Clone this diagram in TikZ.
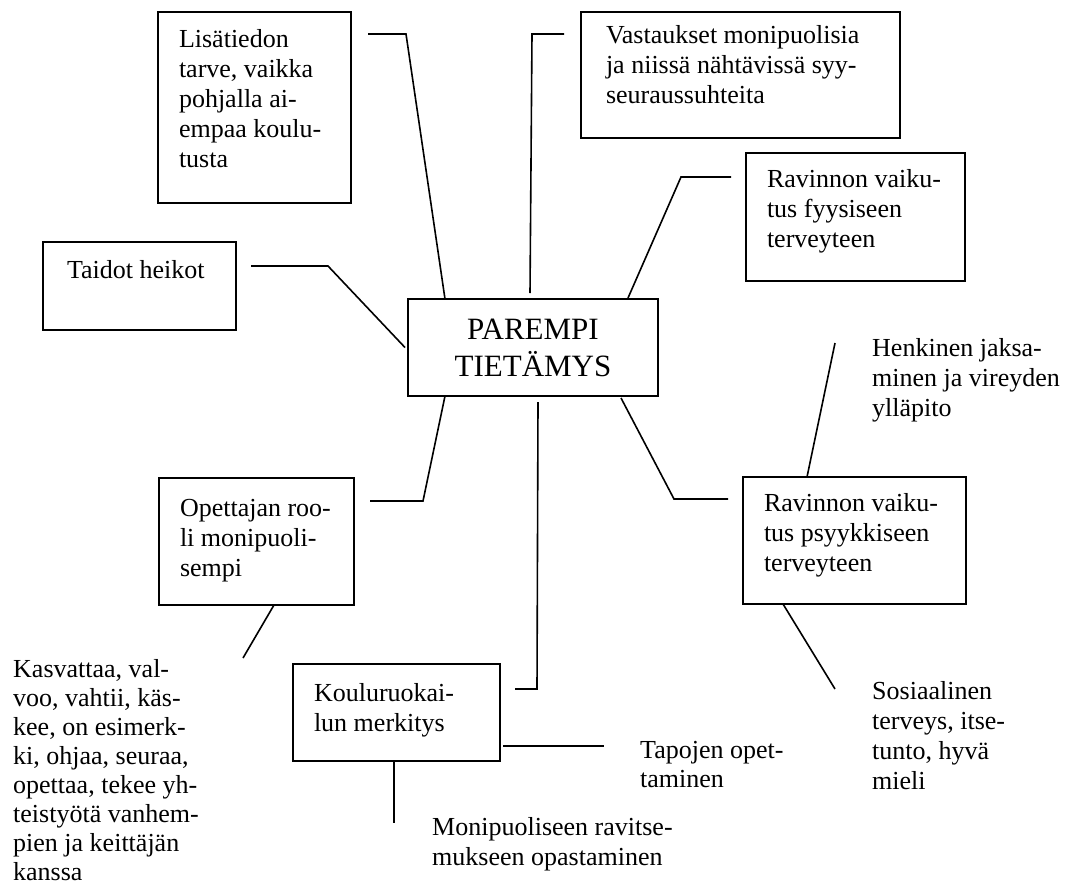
\documentclass[tikz,border=0pt]{standalone}
\usepackage{fontspec}
\setmainfont{Liberation Serif}
\newcommand{\boxbody}[3]{\parbox[t][#2][t]{#1}{\raggedright\strut #3}}
\newcommand{\freetext}[2]{\parbox[t]{#1}{\raggedright\strut #2}}
\tikzset{
    mapbox/.style={
        draw=black,
        line width=1.6pt,
        anchor=north west,
        outer sep=0pt,
        inner xsep=21pt,
        inner ysep=14pt,
        font=\fontsize{26}{30}\selectfont
    },
    corebox/.style={
        mapbox,
        inner xsep=0pt,
        inner ysep=15pt,
        font=\fontsize{31}{37}\selectfont
    },
    maptext/.style={
        anchor=base west,
        inner sep=0pt,
        font=\fontsize{26}{30}\selectfont
    },
    maplink/.style={
        draw=black,
        line width=1.6pt
    }
}

\begin{document}
\begin{tikzpicture}[x=1pt,y=-1pt]
    \useasboundingbox (0,0) rectangle (1070,886);

    \node[corebox] (core) at (408,299)
        {\boxbody{250pt}{67pt}{\centering PAREMPI\\TIETÄMYS}};
    \node[mapbox] (lis) at (158,12)
        {\boxbody{151pt}{163pt}{Lisätiedon\\tarve, vaikka\\pohjalla ai-\\empaa koulu-\\tusta}};
    \node[mapbox,inner xsep=25pt,inner ysep=10pt] (vast) at (581,12)
        {\boxbody{269pt}{106pt}{Vastaukset monipuolisia\\ja niissä nähtävissä syy-\\seuraussuhteita}};
    \node[mapbox,inner ysep=13pt] (fyys) at (746,153)
        {\boxbody{177pt}{102pt}{Ravinnon vaiku-\\tus fyysiseen\\terveyteen}};
    \node[mapbox,inner xsep=24pt,inner ysep=15pt] (taidot) at (43,242)
        {\boxbody{145pt}{58pt}{Taidot heikot}};
    \node[mapbox,inner ysep=13pt] (psyyk) at (743,477)
        {\boxbody{181pt}{101pt}{Ravinnon vaiku-\\tus psyykkiseen\\terveyteen}};
    \node[mapbox,inner ysep=17pt] (opett) at (159,478)
        {\boxbody{153pt}{93pt}{Opettajan roo-\\li monipuoli-\\sempi}};
    \node[mapbox,inner ysep=16pt] (koulu) at (293,664)
        {\boxbody{165pt}{65pt}{Kouluruokai-\\lun merkitys}};

    \node[maptext] (henk) at (872,356)
        {\freetext{200pt}{Henkinen jaksa-\\minen ja vireyden\\ylläpito}};
    \node[maptext] (sos) at (872,699)
        {\freetext{190pt}{Sosiaalinen\\terveys, itse-\\tunto, hyvä\\mieli}};
    \node[maptext,font=\fontsize{26}{29}\selectfont] (kasv) at (13,677)
        {\freetext{230pt}{Kasvattaa, val-\\voo, vahtii, käs-\\kee, on esimerk-\\ki, ohjaa, seuraa,\\opettaa, tekee yh-\\teistyötä vanhem-\\pien ja keittäjän\\kanssa}};
    \node[maptext,font=\fontsize{26}{29}\selectfont] (tap) at (640,758)
        {\freetext{200pt}{Tapojen opet-\\taminen}};
    \node[maptext] (moni) at (432,835)
        {\freetext{300pt}{Monipuoliseen ravitse-\\mukseen opastaminen}};

    \draw[maplink] ([xshift=17pt,yshift=-22pt]lis.north east) -- ++(38,0)
        -- ([xshift=37pt]core.north west);
    \draw[maplink] ([xshift=-17pt,yshift=-22pt]vast.north west) -- ++(-32,0)
        -- ([xshift=122pt,yshift=6pt]core.north west);
    \draw[maplink] ([xshift=-15pt,yshift=-24pt]fyys.north west) -- ++(-50,0)
        -- ([xshift=220pt,yshift=1pt]core.north west);
    \draw[maplink] ([xshift=15pt,yshift=-24pt]taidot.north east) -- ++(77,0)
        -- ([xshift=-3pt]core.west);
    \draw[maplink] ([xshift=37pt]core.south west) -- ++(-22,105)
        -- ([xshift=16pt,yshift=-23pt]opett.north east);
    \draw[maplink] ([xshift=130pt,yshift=-6pt]core.south west) -- ++(-1,287)
        -- ([xshift=15pt,yshift=-25pt]koulu.north east);
    \draw[maplink] ([xshift=213pt,yshift=-2pt]core.south west) -- ++(53,101)
        -- ([xshift=-15pt,yshift=-22pt]psyyk.north west);
    \draw[maplink] ([xshift=-37pt,yshift=13pt]henk.base west)
        -- ([xshift=64pt]psyyk.north west);
    \draw[maplink] ([xshift=40pt]psyyk.south west)
        -- ([xshift=-37pt,yshift=10pt]sos.base west);
    \draw[maplink] ([xshift=115pt]opett.south west)
        -- ([xshift=230pt,yshift=19pt]kasv.base west);
    \draw[maplink] ([xshift=3pt,yshift=15pt]koulu.south east)
        -- ([xshift=-36pt,yshift=12pt]tap.base west);
    \draw[maplink] ([xshift=101pt]koulu.south west)
        -- ([xshift=-38pt,yshift=12pt]moni.base west);
\end{tikzpicture}
\end{document}
